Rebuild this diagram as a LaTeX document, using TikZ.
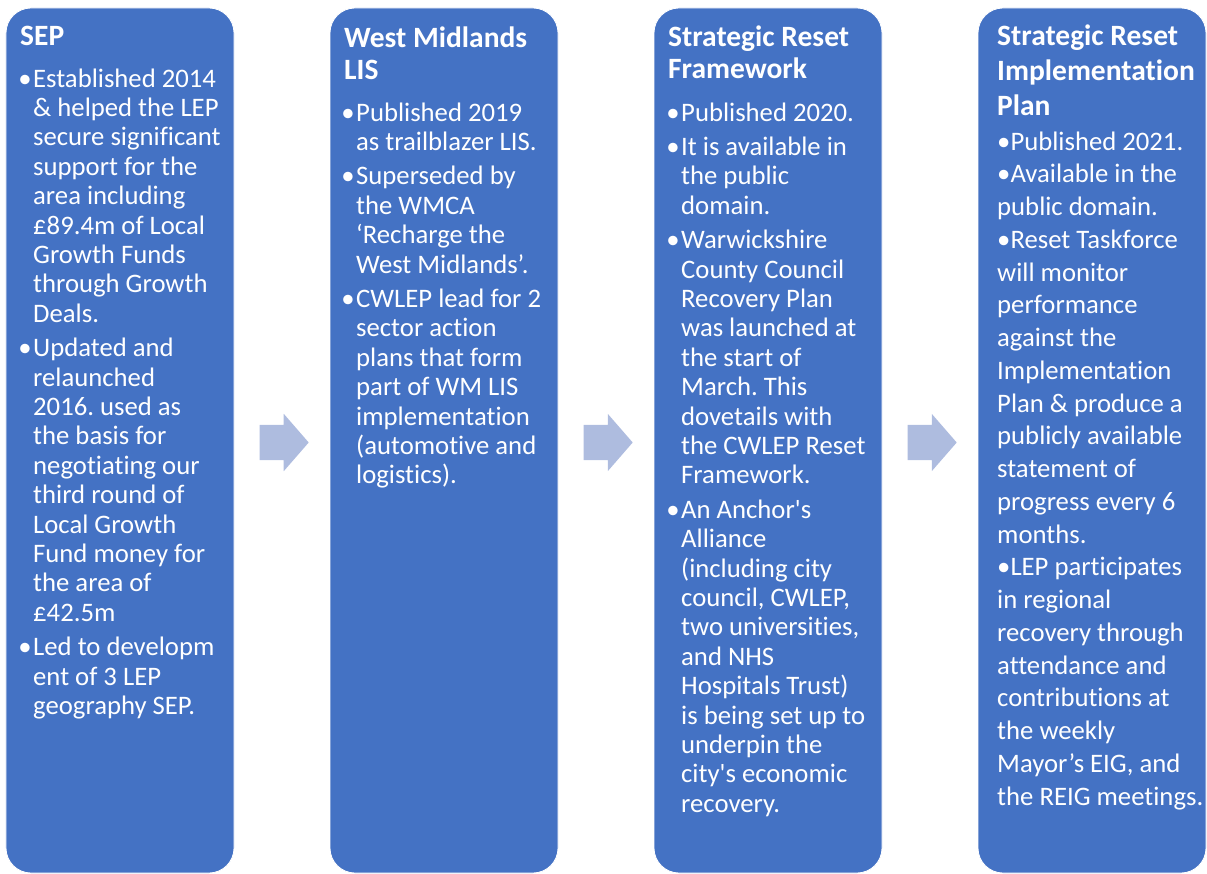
\documentclass[tikz,border=0pt]{standalone}
\usepackage{fontspec}
\newfontfamily\carlitofont{Carlito}[Ligatures={NoCommon}]
\usetikzlibrary{shapes.arrows,calc}
\definecolor{stageblue}{HTML}{4472C4}
\definecolor{arrowblue}{HTML}{AEBCDF}
\frenchspacing
% lines of a box, first baseline on the anchor
\newcommand{\boxlines}[1]{\begin{tabular}[t]{@{}l@{}}#1\end{tabular}}
\newcommand{\bul}{\llap{•\hspace{1.5bp}}}
\tikzset{
  stage/.style={fill=stageblue,draw=white,line width=0.8bp,rounded corners=25bp,
    minimum width=228bp,minimum height=865bp,inner sep=0pt},
  head/.style={anchor=base west,inner sep=0pt,text=white,
    font=\carlitofont\fontsize{29.5bp}{32bp}\selectfont\bfseries},
  body/.style={anchor=base west,inner sep=0pt,text=white,
    font=\carlitofont\fontsize{26.7bp}{29.4bp}\selectfont},
  flowarrow/.style={single arrow,fill=arrowblue,draw=none,inner xsep=0pt,inner ysep=17.5bp,
    minimum height=49bp,single arrow head extend=11bp,
    single arrow tip angle=98,single arrow head indent=0pt}
}
\begin{document}
\begin{tikzpicture}[x=1bp,y=-1bp]
		\useasboundingbox (0,0) rectangle (1207,874);
		
		% The four stages
		\node[stage] (sep) at (120,440.5) {};
		\node[stage] (lis) at (444,440.5) {};
		\node[stage] (srf) at (768,440.5) {};
		\node[stage] (srip) at (1092,440.5) {};
		
		% Arrows between the stages
		\node[flowarrow] (arrowA) at ($(sep.east)!0.5!(lis.west)+(-5.5,2)$) {};
		\node[flowarrow] (arrowB) at ($(lis.east)!0.5!(srf.west)+(-5.5,2)$) {};
		\node[flowarrow] (arrowC) at ($(srf.east)!0.5!(srip.west)+(-5.5,2)$) {};
		
		% SEP
		\node[head] (sepHead) at (20,45) {\boxlines{SEP}};
		\node[body] (sepText) at (33,87) {\boxlines{
			\bul Established 2014\\ \& helped the LEP\\ secure significant\\ support for the\\
			area including\\ £89.4m of Local\\ Growth Funds\\ through Growth\\ Deals.\\[5bp]
			\bul Updated and\\ relaunched\\ 2016. used as\\ the basis for\\ negotiating our\\
			third round of\\ Local Growth\\ Fund money for\\ the area of\\ £42.5m\\[5bp]
			\bul Led to developm\\ ent of 3 LEP\\ geography SEP.}};
		
		% West Midlands LIS
		\node[head] (lisHead) at (344,47) {\boxlines{West Midlands\\ LIS}};
		\node[body] (lisText) at (356,121) {\boxlines{
			\bul Published 2019\\ as trailblazer LIS.\\[5bp]
			\bul Superseded by\\ the WMCA\\ ‘Recharge the\\ West Midlands’.\\[5bp]
			\bul CWLEP lead for 2\\ sector action\\ plans that form\\ part of WM LIS\\
			implementation\\ (automotive and\\ logistics).}};
		
		% Strategic Reset Framework
		\node[head] (srfHead) at (668,46) {\boxlines{Strategic Reset\\ Framework}};
		\node[body] (srfText) at (681,121) {\boxlines{
			\bul Published 2020.\\[5bp]
			\bul It is available in\\ the public\\ domain.\\[5bp]
			\bul Warwickshire\\ County Council\\ Recovery Plan\\ was launched at\\ the start of\\
			March. This\\ dovetails with\\ the CWLEP Reset\\ Framework.\\[5bp]
			\bul An Anchor's\\ Alliance\\ (including city\\ council, CWLEP,\\ two universities,\\
			and NHS\\ Hospitals Trust)\\ is being set up to\\ underpin the\\ city's economic\\ recovery.}};
		
		% Strategic Reset Implementation Plan
		\node[head,font=\carlitofont\fontsize{29.5bp}{35bp}\selectfont\bfseries] (sripHead) at (997,45)
			{\boxlines{Strategic Reset\\ Implementation\\ Plan}};
		\node[body,font=\carlitofont\fontsize{26.7bp}{32.75bp}\selectfont] (sripText) at (997,150) {\boxlines{
			•Published 2021.\\ •Available in the\\ public domain.\\ •Reset Taskforce\\ will monitor\\
			performance\\ against the\\ Implementation\\ Plan \& produce a\\ publicly available\\
			statement of\\ progress every 6\\ months.\\ •LEP participates\\ in regional\\
			recovery through\\ attendance and\\ contributions at\\ the weekly\\ Mayor’s EIG, and\\
			the REIG meetings.}};
		
\end{tikzpicture}
\end{document}
